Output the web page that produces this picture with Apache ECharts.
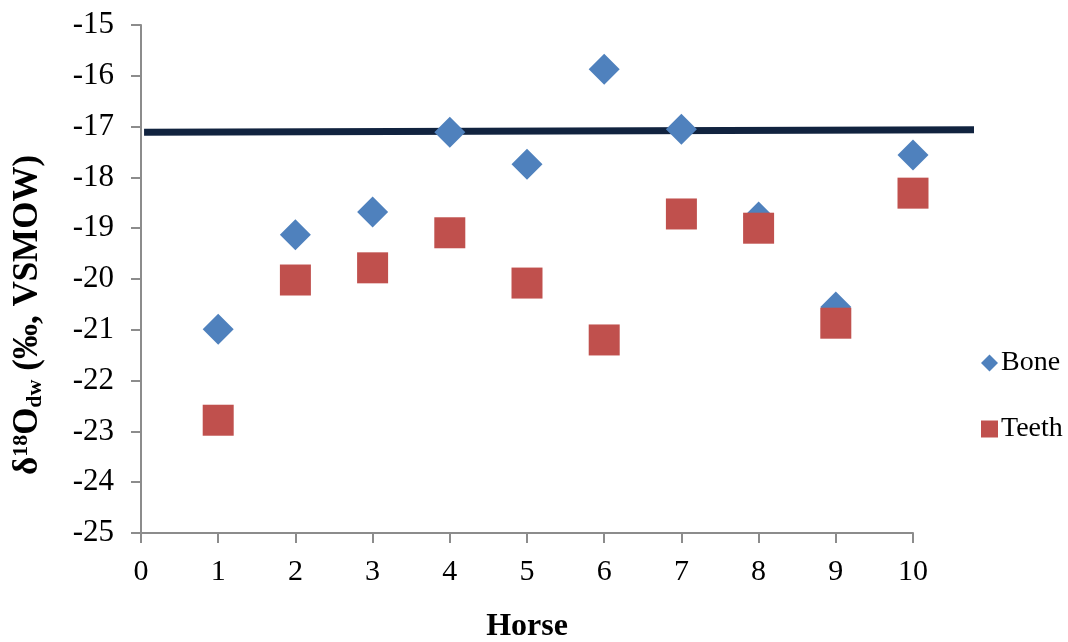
<!DOCTYPE html>
<html>
<head>
<meta charset="utf-8">
<script src="https://cdn.jsdelivr.net/npm/echarts@6/dist/echarts.min.js"></script>
<style>html,body{margin:0;padding:0;background:#fff}#c{width:1068px;height:642px}</style>
</head>
<body>
<div id="c"></div>
<script>
const horses = [1, 2, 3, 4, 5, 6, 7, 8, 9, 10];
const bone = [-20.99, -19.13, -18.68, -17.11, -17.74, -15.87, -17.05, -18.78, -20.55, -17.56];
const teeth = [-22.78, -20.02, -19.78, -19.09, -20.08, -21.20, -18.72, -19.00, -20.87, -18.31];
const refLineX = [0.04, 10.79];
const refLineY = [-17.11, -17.06];
const xTicks = {min: 0, max: 10, step: 1};
const yTicks = {min: -25, max: -15, step: 1};

const font = 'Liberation Serif';
const gridLeft = 141, gridTop = 25, gridBottom = 109;
const unitPx = (1068 - 155 - gridLeft) / (xTicks.max - xTicks.min);
const chart = echarts.init(document.getElementById('c'));
chart.setOption({
  animation: false,
  grid: [
    {left: gridLeft, right: 155, top: gridTop, bottom: gridBottom, containLabel: false, outerBoundsMode: 'none'},
    {left: gridLeft, right: 1068 - gridLeft - unitPx * refLineX[1], top: gridTop, bottom: gridBottom, containLabel: false, outerBoundsMode: 'none'}
  ],
  xAxis: [{
    type: 'value', min: xTicks.min, max: xTicks.max, interval: xTicks.step, gridIndex: 0,
    name: 'Horse', nameLocation: 'middle', nameGap: 78,
    nameTextStyle: {fontFamily: font, fontSize: 32, fontWeight: 'bold', color: '#000'},
    axisLine: {onZero: false, lineStyle: {color: '#8c8c8c', width: 2}},
    axisTick: {show: true, length: 10, inside: false, lineStyle: {color: '#8c8c8c', width: 2}},
    axisLabel: {fontFamily: font, fontSize: 30, color: '#000', margin: 24},
    splitLine: {show: false}
  }, {
    type: 'value', min: 0, max: refLineX[1], gridIndex: 1, show: false
  }],
  yAxis: [{
    type: 'value', min: yTicks.min, max: yTicks.max, interval: yTicks.step, gridIndex: 0,
    axisLine: {show: true, lineStyle: {color: '#8c8c8c', width: 2}},
    axisTick: {show: true, length: 10, lineStyle: {color: '#8c8c8c', width: 2}},
    axisLabel: {fontFamily: font, fontSize: 31, color: '#000', margin: 27},
    splitLine: {show: false}
  }, {
    type: 'value', min: yTicks.min, max: yTicks.max, gridIndex: 1, show: false
  }],
  graphic: [{
    type: 'text', x: 28, y: 315, rotation: Math.PI / 2,
    style: {
      text: '{d|δ}{sup|18}{b|O}{sub|dw}{b| (‰, VSMOW)}',
      align: 'center', verticalAlign: 'middle',
      rich: {
        d: {fontFamily: font, fontSize: 35, fontWeight: 'bold', fill: '#000', verticalAlign: 'middle'},
        b: {fontFamily: font, fontSize: 35, fontWeight: 'bold', fill: '#000', verticalAlign: 'middle'},
        sup: {fontFamily: font, fontSize: 22, fontWeight: 'bold', fill: '#000', verticalAlign: 'top', padding: [0, 0, 14, 0]},
        sub: {fontFamily: font, fontSize: 22, fontWeight: 'bold', fill: '#000', verticalAlign: 'bottom', padding: [12, 0, 0, 0]}
      }
    }
  }],
  legend: {
    orient: 'vertical', left: 976, top: 344, itemGap: 38,
    itemWidth: 17, itemHeight: 17,
    textStyle: {fontFamily: font, fontSize: 28, color: '#000', padding: [0, 0, 0, -2]},
    data: [{name: 'Bone', icon: 'diamond'}, {name: 'Teeth', icon: 'rect'}]
  },
  series: [
    {
      name: 'Ref', type: 'line', symbol: 'none', silent: true, xAxisIndex: 1, yAxisIndex: 1,
      lineStyle: {color: '#11233f', width: 7},
      data: refLineX.map((x, i) => [x, refLineY[i]]), z: 1
    },
    {
      name: 'Bone', type: 'scatter', symbol: 'diamond', symbolSize: 31,
      itemStyle: {color: '#4f81bd', opacity: 1},
      data: horses.map((h, i) => [h, bone[i]]), z: 2
    },
    {
      name: 'Teeth', type: 'scatter', symbol: 'rect', symbolSize: 31,
      itemStyle: {color: '#c0504d', opacity: 1},
      data: horses.map((h, i) => [h, teeth[i]]), z: 3
    }
  ]
});
</script>
</body>
</html>
